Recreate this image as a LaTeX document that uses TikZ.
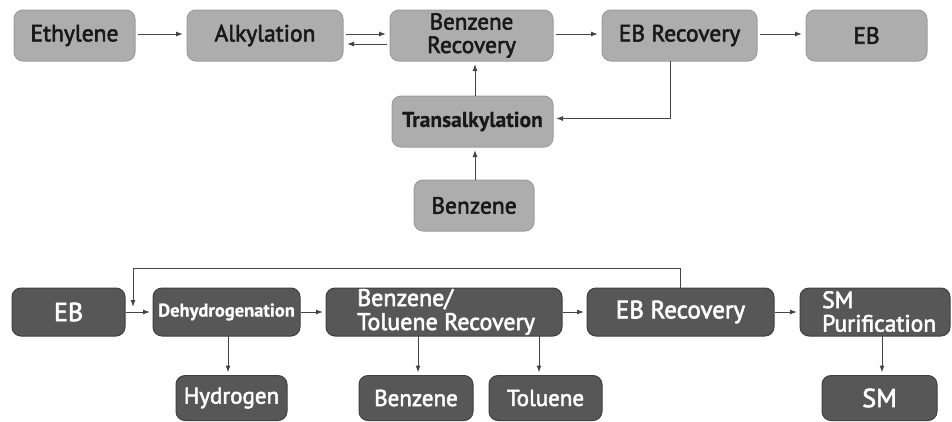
\documentclass[tikz,border=0pt]{standalone}
\usepackage{fontspec}
\setmainfont{PT Sans}
\newfontfamily\lbl{PT Sans}[FakeBold=2.4]
\newfontfamily\lblbold{PT Sans Bold}[FakeBold=0.6]
\usetikzlibrary{arrows.meta,calc}

\definecolor{lightfill}{HTML}{ADADAD}
\definecolor{lightedge}{HTML}{9C9C9C}
\definecolor{darkfill}{HTML}{575757}
\definecolor{darkedge}{HTML}{3F3F3F}
\definecolor{wire}{HTML}{444444}

\newcommand{\fs}[1]{\fontsize{#1}{#1}\selectfont}

\tikzset{
  box/.style={rounded corners=9pt, line width=1pt, inner sep=0pt, outer sep=0pt},
  lightbox/.style={box, fill=lightfill, draw=lightedge, text=black!90, minimum height=51pt},
  darkbox/.style={box, fill=darkfill, draw=darkedge, text=white, minimum height=48pt},
  arr/.style={draw=wire, line width=1pt, -{Latex[length=7pt,width=5pt]}},
}

\begin{document}
\begin{tikzpicture}[x=1pt, y=-1pt]
\useasboundingbox (0,0) rectangle (952,421);

% ---------- ethylbenzene section ----------
\node[lightbox, minimum width=121pt, font=\lbl\fs{23.5}] (eth)  at (74.5,35.5)  {Ethylene};
\node[lightbox, minimum width=156pt, font=\lbl\fs{23.5}] (alk)  at (265,35.5)   {Alkylation};
\node[lightbox, minimum width=163pt, font=\lbl\fs{23.5}, align=center] (brec) at (471.5,35.5)
  {\fontsize{23}{18}\selectfont Benzene\\Recovery};
\node[lightbox, minimum width=155pt, font=\lbl\fs{23.5}] (ebrec) at (679.5,35.5) {EB Recovery};
\node[lightbox, minimum width=121pt, font=\lbl\fs{23.5}] (eb)   at (866.5,35.5) {EB};
\node[lightbox, minimum width=161pt, font=\lblbold\fs{21.5}] (trans) at (472.5,121.5) {Transalkylation};
\node[lightbox, minimum width=120pt, font=\lbl\fs{23.5}] (bz)   at (474,205.5)  {Benzene};

\draw[arr, shorten >=4pt, shorten <=3pt] ([yshift=1.5pt]eth.east) -- ([yshift=1.5pt]alk.west);
\draw[arr, shorten >=4pt, shorten <=3pt] ([yshift=1.5pt]alk.east) -- ([yshift=1.5pt]brec.west);
\draw[arr, shorten >=4pt, shorten <=3pt] ([yshift=-8.5pt]brec.west) -- ([yshift=-8.5pt]alk.east);
\draw[arr, shorten >=4pt, shorten <=3pt] ([yshift=1.5pt]brec.east) -- ([yshift=1.5pt]ebrec.west);
\draw[arr, shorten >=4pt, shorten <=3pt] ([yshift=1.5pt]ebrec.east) -- ([yshift=1.5pt]eb.west);
\draw[arr, shorten >=3pt] ([xshift=2.5pt]trans.north) -- ([xshift=3.5pt]brec.south);
\draw[arr, shorten >=3pt] ([xshift=1pt]bz.north) -- ([xshift=2.5pt]trans.south);
\draw[arr, shorten >=3pt] ([xshift=-9.5pt]ebrec.south) |- ([yshift=3pt]trans.east);

% ---------- styrene section ----------
\node[darkbox, minimum width=113pt, font=\lbl\fs{26}] (eb2)  at (68.5,312)  {EB};
\node[darkbox, minimum width=147pt, font=\lblbold\fs{18.5}] (dehy) at (226.5,312) {Dehydrogenation};
\node[darkbox, minimum width=236pt] (btrec) at (444,312) {};
\node[anchor=base west, font=\lbl\fs{24}, align=left, text=white, inner sep=0pt]
  (btlabel) at (357,330) {\fontsize{24}{20}\selectfont Benzene/\\Toluene Recovery};
\node[darkbox, minimum width=187pt, font=\lbl\fs{25}] (ebrec2) at (680.5,312) {EB Recovery};
\node[darkbox, minimum width=150pt] (smp) at (875,312) {};
\node[anchor=base west, font=\lbl\fs{23.5}, align=left, text=white, inner sep=0pt]
  (smplabel) at (822,331.5) {\fontsize{23.5}{21.5}\selectfont SM\\Purification};
\node[darkbox, minimum width=111pt, minimum height=45pt, font=\lbl\fs{23}] (hyd) at (231.5,398) {Hydrogen};
\node[darkbox, minimum width=114pt, minimum height=45pt, font=\lbl\fs{23}] (bz2) at (416,398)   {Benzene};
\node[darkbox, minimum width=113pt, minimum height=45pt, font=\lbl\fs{23}] (tol) at (545.5,398) {Toluene};
\node[darkbox, minimum width=115pt, minimum height=45pt, font=\lbl\fs{26}] (sm)  at (879.5,398) {SM};

\coordinate (loopcorner) at (133,268);
\coordinate (loopend)    at (133,307);

\draw[arr, shorten >=3pt, shorten <=1pt] (eb2.east) -- (dehy.west);
\draw[arr, shorten >=3pt, shorten <=1pt] (dehy.east) -- (btrec.west);
\draw[arr, shorten >=3pt, shorten <=1pt] (btrec.east) -- (ebrec2.west);
\draw[arr, shorten >=3pt, shorten <=1pt] (ebrec2.east) -- (smp.west);
\draw[arr] (ebrec2.north) |- (loopcorner) -- (loopend);
\draw[arr, shorten >=3pt] ([xshift=1.5pt]dehy.south) -- ([xshift=-3.5pt]hyd.north);
\draw[arr, shorten >=3pt] ([xshift=-26pt]btrec.south) -- ([xshift=2pt]bz2.north);
\draw[arr, shorten >=3pt] ([xshift=95pt]btrec.south) -- ([xshift=-6.5pt]tol.north);
\draw[arr, shorten >=3pt] ([xshift=7pt]smp.south) -- ([xshift=2.5pt]sm.north);
\end{tikzpicture}
\end{document}
